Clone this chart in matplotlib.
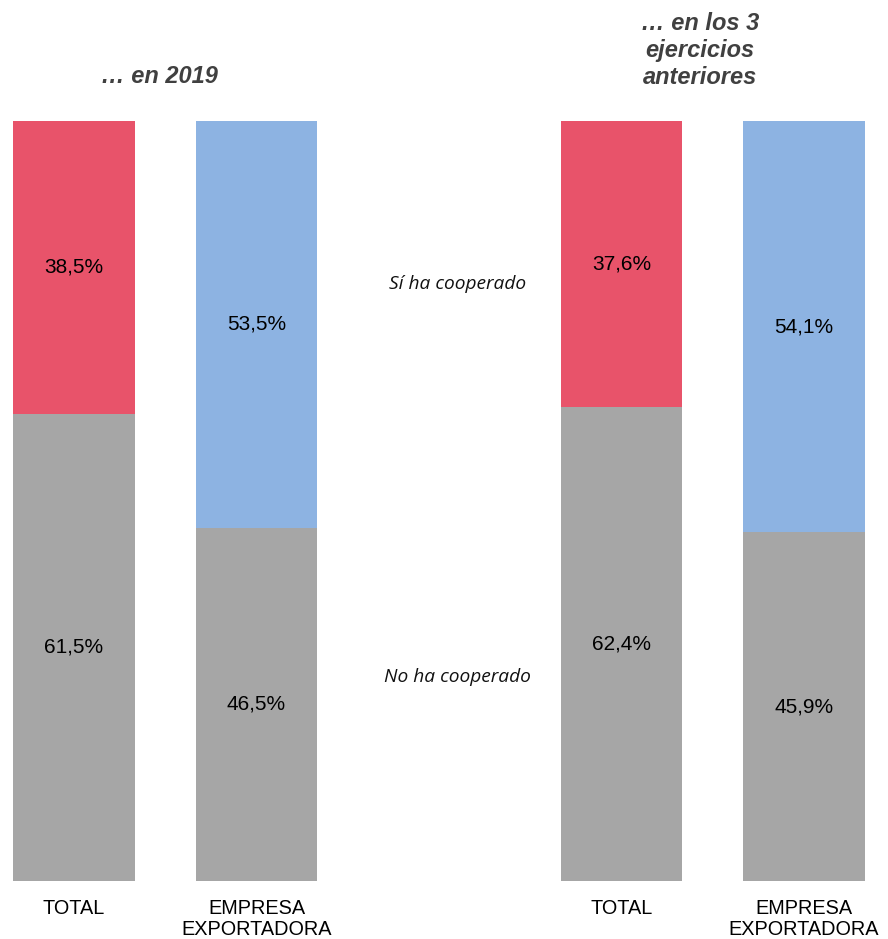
import matplotlib.pyplot as plt
import numpy as np

plt.rcParams['font.family'] = ['Liberation Sans', 'DejaVu Sans']

categories = ['TOTAL', 'EMPRESA\nEXPORTADORA', 'TOTAL', 'EMPRESA\nEXPORTADORA']
positions = [0, 1, 3, 4]
si_coop = [38.5, 53.5, 37.6, 54.1]
no_coop = [61.5, 46.5, 62.4, 45.9]
top_colors = ['#E8536A', '#8DB3E2', '#E8536A', '#8DB3E2']
gray = '#A6A6A6'

fig = plt.figure(figsize=(8.88, 9.39), dpi=100)
ax = fig.add_axes([0, 58 / 939, 1, 760 / 939])

w = 0.668
ax.bar(positions, no_coop, width=w, color=gray)
ax.bar(positions, si_coop, width=w, bottom=no_coop, color=top_colors)

for x, s, n in zip(positions, si_coop, no_coop):
    ax.text(x, n + s / 2, f'{s:.1f}%'.replace('.', ','), ha='center', va='center', fontsize=15)
    ax.text(x, n / 2, f'{n:.1f}%'.replace('.', ','), ha='center', va='center', fontsize=15)

ax.text(2.1, 78.6, 'Sí ha cooperado', ha='center', va='center', fontsize=13.8,
        style='italic', family=['Open Sans', 'DejaVu Sans'], color='#111111')
ax.text(2.1, 26.8, 'No ha cooperado', ha='center', va='center', fontsize=13.8,
        style='italic', family=['Open Sans', 'DejaVu Sans'], color='#111111')

ax.text(0.47, 105.9, '… en 2019', ha='center', va='center', fontsize=17,
        style='italic', weight='bold', color='#404040', clip_on=False)
ax.text(3.43, 109.3, '… en los 3\nejercicios\nanteriores', ha='center', va='center',
        fontsize=17, style='italic', weight='bold', color='#404040',
        linespacing=1.22, clip_on=False)

ax.set_xlim(-74 / 182.5, (888 - 74) / 182.5)
ax.set_ylim(0, 100)
ax.set_xticks(positions)
ax.set_xticklabels(categories, fontsize=14.3, linespacing=1.15)
ax.tick_params(axis='x', length=0, pad=13)
ax.set_yticks([])
for sp in ax.spines.values():
    sp.set_visible(False)

fig.savefig('out.png', dpi=100)
